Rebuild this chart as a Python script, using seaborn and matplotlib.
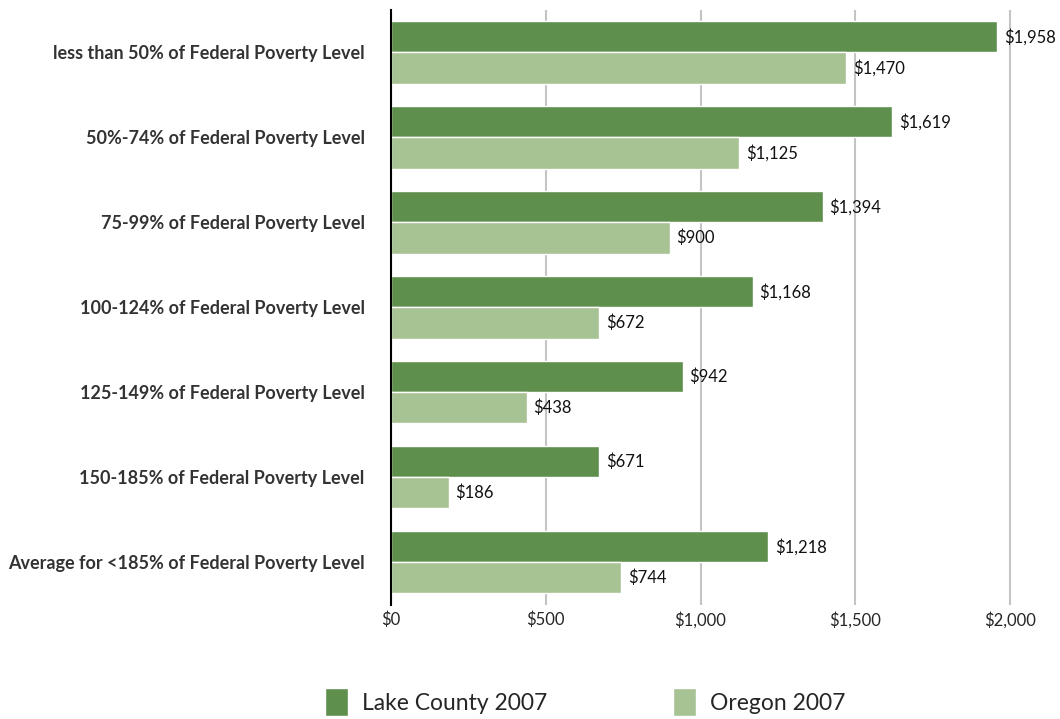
import pandas as pd
import matplotlib.pyplot as plt
import seaborn as sns
from matplotlib.patches import Patch

# data
categories = [
    "less than 50% of Federal Poverty Level",
    "50%-74% of Federal Poverty Level",
    "75-99% of Federal Poverty Level",
    "100-124% of Federal Poverty Level",
    "125-149% of Federal Poverty Level",
    "150-185% of Federal Poverty Level",
    "Average for <185% of Federal Poverty Level",
]
lake_county = [1958, 1619, 1394, 1168, 942, 671, 1218]
oregon = [1470, 1125, 900, 672, 438, 186, 744]
series = ["Lake County 2007", "Oregon 2007"]
colors = ["#5f8f4c", "#a7c394"]

df = pd.DataFrame({
    "category": categories * 2,
    "value": lake_county + oregon,
    "series": [series[0]] * len(categories) + [series[1]] * len(categories),
})

sns.set_style("white")
plt.rcParams["font.family"] = ["Lato", "DejaVu Sans"]

fig = plt.figure(figsize=(10.6, 7.19), dpi=100)
ax = fig.add_axes([0.3689, 0.1586, 0.6132, 0.8275])

sns.barplot(data=df, y="category", x="value", hue="series", order=categories,
            hue_order=series, palette=colors, width=0.73, gap=0,
            saturation=1, legend=False, ax=ax)

for c in ax.containers:
    ax.bar_label(c, labels=[f"${v:,.0f}" for v in c.datavalues],
                 padding=5, fontsize=12, color="#111111")

ax.set_xlim(0, 2100)
ax.set_xticks([0, 500, 1000, 1500, 2000])
ax.set_xticklabels(["$0", "$500", "$1,000", "$1,500", "$2,000"], fontsize=12)
ax.xaxis.grid(True, color="#c4c4c4", linewidth=1.5)
ax.set_axisbelow(True)
ax.tick_params(axis="x", length=4, color="#c4c4c4", pad=1)
ax.tick_params(axis="y", length=0, pad=19)
for lbl in ax.get_yticklabels():
    lbl.set_fontweight("bold")
    lbl.set_fontsize(13)
    lbl.set_color("#333333")
ax.set_xlabel("")
ax.set_ylabel("")
for s in ["top", "right", "bottom"]:
    ax.spines[s].set_visible(False)
ax.spines["left"].set_color("black")
ax.spines["left"].set_linewidth(1.5)

handles = [Patch(facecolor=colors[i], label=series[i]) for i in range(2)]
fig.legend(handles=handles, loc="lower center", bbox_to_anchor=(0.552, -0.025),
           ncol=2, frameon=False, fontsize=16.5, handlelength=1.0, handleheight=1.5,
           handletextpad=0.6, columnspacing=5.5)

fig.savefig("out.png", dpi=100)
